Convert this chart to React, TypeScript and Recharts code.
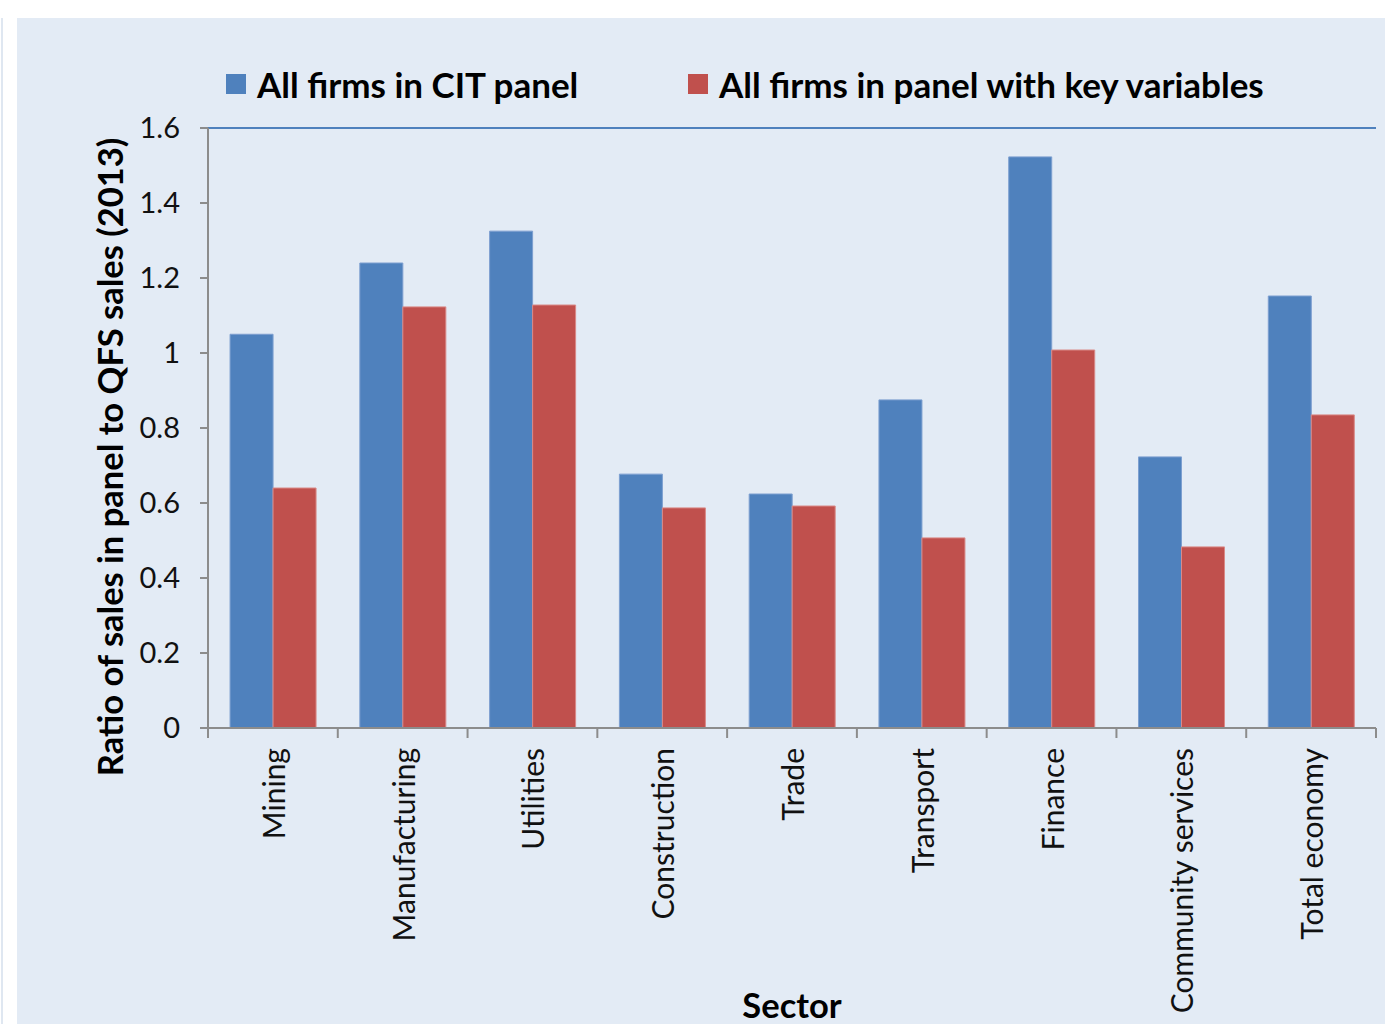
import React from "react";
import {
  BarChart,
  Bar,
  XAxis,
  YAxis,
  CartesianGrid,
  Legend,
  ReferenceLine,
} from "recharts";

const sectors = [
  "Mining",
  "Manufacturing",
  "Utilities",
  "Construction",
  "Trade",
  "Transport",
  "Finance",
  "Community services",
  "Total economy",
];
const allFirmsCIT = [1.05, 1.24, 1.325, 0.677, 0.624, 0.875, 1.523, 0.723, 1.152];
const allFirmsKeyVars = [0.64, 1.123, 1.128, 0.587, 0.592, 0.507, 1.008, 0.483, 0.835];
const yTicks = [0, 0.2, 0.4, 0.6, 0.8, 1, 1.2, 1.4, 1.6];

const seriesNames = ["All firms in CIT panel", "All firms in panel with key variables"];

const data = sectors.map((s, i) => ({
  sector: s,
  cit: allFirmsCIT[i],
  key: allFirmsKeyVars[i],
}));

const BLUE = "#4f81bd";
const RED = "#c0504d";
const GRID = "#8c8c8c";
const BG = "#e3ebf5";
const FONT = "Lato, 'Open Sans', sans-serif";

const CategoryTick = (props: any) => {
  const { x, y, payload, index, visibleTicksCount } = props;
  const half = payload && payload.offset ? payload.offset : 0;
  const axisY = y - 20;
  const last = index === (visibleTicksCount ?? sectors.length) - 1;
  return (
    <g>
      <line x1={x - half} x2={x - half} y1={axisY} y2={axisY + 10} stroke={GRID} strokeWidth={2} />
      {last && (
        <line x1={x + half} x2={x + half} y1={axisY} y2={axisY + 10} stroke={GRID} strokeWidth={2} />
      )}
      <text
        x={x + 12}
        y={y}
        transform={`rotate(-90, ${x + 12}, ${y})`}
        textAnchor="end"
        fontFamily={FONT}
        fontSize={30}
        fill="#111"
      >
        {payload.value}
      </text>
    </g>
  );
};

const YTitle = (props: any) => {
  const vb = props.viewBox || { x: 0, y: 0, width: 0, height: 0 };
  const cx = vb.x + 106;
  const cy = vb.y + vb.height / 2 + 29;
  return (
    <text
      x={cx}
      y={cy}
      transform={`rotate(-90, ${cx}, ${cy})`}
      textAnchor="middle"
      fontFamily={FONT}
      fontWeight={700}
      fontSize={34.5}
      fill="#000"
    >
      Ratio of sales in panel to QFS sales (2013)
    </text>
  );
};

const XTitle = (props: any) => {
  const vb = props.viewBox || { x: 0, y: 0, width: 0, height: 0 };
  return (
    <text
      x={vb.x + vb.width / 2}
      y={vb.y + 290}
      textAnchor="middle"
      fontFamily={FONT}
      fontWeight={700}
      fontSize={34.5}
      fill="#000"
    >
      Sector
    </text>
  );
};

const legendLeft = [209, 671];

const LegendContent = (props: any) => {
  const payload = props.payload || [];
  return (
    <div style={{ position: "relative", width: 1368, height: 100 }}>
      {payload.map((p: any, i: number) => (
        <div
          key={i}
          style={{
            position: "absolute",
            left: legendLeft[i],
            top: 45,
            display: "flex",
            alignItems: "center",
            whiteSpace: "nowrap",
          }}
        >
          <div style={{ width: 20, height: 20, background: p.color, marginRight: 11 }} />
          <span
            style={{
              fontFamily: FONT,
              fontWeight: 700,
              fontSize: 35,
              color: "#000",
              lineHeight: "42px",
            }}
          >
            {p.value}
          </span>
        </div>
      ))}
    </div>
  );
};

export default function App() {
  return (
    <div
      style={{
        position: "absolute",
        left: 0,
        top: 0,
        width: 1385,
        height: 1024,
        background: "#fff",
        overflow: "hidden",
      }}
    >
      <div style={{ position: "absolute", left: 1, top: 18, width: 2, height: 1006, background: "#dfe7f1" }} />
      <div style={{ position: "absolute", left: 17, top: 18, width: 1368, height: 1006, background: BG }}>
        <BarChart
          width={1368}
          height={1006}
          data={data}
          margin={{ top: 110, right: 9, left: 0, bottom: 0 }}
          barCategoryGap="17%"
          barGap={0}
        >
          <CartesianGrid vertical={false} stroke={GRID} strokeWidth={2} />
          <XAxis
            dataKey="sector"
            interval={0}
            height={296}
            axisLine={{ stroke: GRID, strokeWidth: 2 }}
            tickLine={false}
            tickSize={10}
            tickMargin={10}
            tick={<CategoryTick />}
            label={<XTitle />}
          />
          <YAxis
            yAxisId="left"
            width={191}
            domain={[0, 1.6]}
            ticks={yTicks}
            interval={0}
            axisLine={{ stroke: GRID, strokeWidth: 2 }}
            tickLine={{ stroke: GRID, strokeWidth: 2 }}
            tickSize={8}
            tickMargin={20}
            tick={{ fontFamily: FONT, fontSize: 29, fill: "#111" }}
            label={<YTitle />}
          />
          <YAxis
            yAxisId="right"
            orientation="right"
            width={0}
            domain={[0, 1.6]}
            ticks={yTicks}
            tick={false}
            tickLine={false}
            axisLine={{ stroke: BLUE, strokeWidth: 2 }}
          />
          <ReferenceLine yAxisId="left" y={1.6} stroke={BLUE} strokeWidth={2} />
          <Legend
            layout="horizontal"
            verticalAlign="middle"
            align="center"
            wrapperStyle={{ position: "absolute", left: 0, top: 0, width: 1368, height: 100 }}
            content={<LegendContent />}
          />
          <Bar
            yAxisId="left"
            dataKey="cit"
            name={seriesNames[0]}
            fill={BLUE}
            stroke="#7d9fd0"
            strokeWidth={1}
            isAnimationActive={false}
          />
          <Bar
            yAxisId="left"
            dataKey="key"
            name={seriesNames[1]}
            fill={RED}
            stroke="#d98a88"
            strokeWidth={1}
            isAnimationActive={false}
          />
        </BarChart>
      </div>
    </div>
  );
}
